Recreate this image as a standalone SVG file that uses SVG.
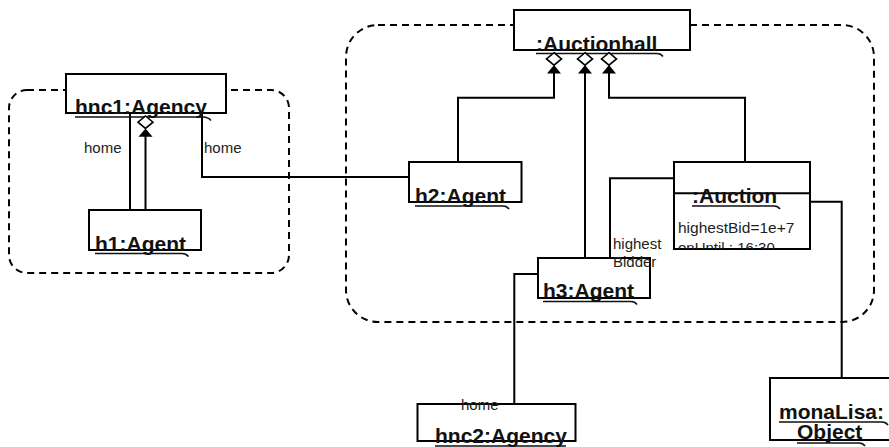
<svg xmlns="http://www.w3.org/2000/svg" width="889" height="447" viewBox="0 0 889 447">
  <style>
    .region { fill: none; stroke: #000; stroke-width: 2; stroke-dasharray: 7 5; }
    .box { fill: #fff; stroke: #000; stroke-width: 2; }
    .conn { fill: none; stroke: #000; stroke-width: 2; }
    .name { font-family: "Liberation Sans", Arial, sans-serif; font-weight: bold; font-size: 21px; fill: #111; }
    .ul { fill: none; stroke: #111; stroke-width: 1.6; }
    .lbl { font-family: "Liberation Sans", Arial, sans-serif; font-size: 15px; fill: #222; }
    .dia { fill: #fff; stroke: #000; stroke-width: 1.6; }
    .tri { fill: #000; stroke: none; }
  </style>
  <defs>
    <!-- aggregation end: open diamond with a filled navigation triangle below it -->
    <g id="aggEnd">
      <path class="dia" d="M0 0 L7.5 6.2 L0 12.4 L-7.5 6.2 Z"/>
      <path class="tri" d="M0 12.4 L7 20.8 L-7 20.8 Z"/>
    </g>
    <clipPath id="auctionClip">
      <rect x="674" y="162" width="136" height="87"/>
    </clipPath>
  </defs>

  <!-- system boundaries -->
  <g id="regions">
    <rect class="region" x="9" y="90" width="280" height="183" rx="18" ry="18"/>
    <rect class="region" x="346" y="25" width="528" height="297" rx="32" ry="32"/>
  </g>

  <!-- links between objects -->
  <g id="connectors">
    <path class="conn" d="M130 113 V210"/>
    <path class="conn" d="M145.5 136 V210"/>
    <path class="conn" d="M202 113 V177 H409"/>
    <path class="conn" d="M554 72 V97.7 H458 V162"/>
    <path class="conn" d="M585 72 V258"/>
    <path class="conn" d="M609 72 V97.7 H745 V162"/>
    <path class="conn" d="M674 178.3 H610 V258"/>
    <path class="conn" d="M538 274 H514.3 V404"/>
    <path class="conn" d="M810 201.7 H841.7 V378"/>
  </g>

  <g id="hnc1">
    <rect class="box" x="66" y="74" width="160" height="39"/>
    <text class="name" x="75" y="114">hnc1:Agency</text>
    <path class="ul" d="M75 117 H203 Q208 117 211 120.5"/>
  </g>

  <g id="h1">
    <rect class="box" x="89" y="210" width="112" height="40"/>
    <text class="name" x="95" y="251">h1:Agent</text>
    <path class="ul" d="M95 253.5 H182 Q186 253.5 188.5 256.5"/>
  </g>

  <g id="auctionhall">
    <rect class="box" x="514" y="10" width="176" height="40"/>
    <text class="name" x="536" y="51">:Auctionhall</text>
    <path class="ul" d="M536 53.5 H657 Q661 53.5 663 56.5"/>
  </g>

  <g id="h2">
    <rect class="box" x="409" y="162" width="112.5" height="40"/>
    <text class="name" x="415" y="203">h2:Agent</text>
    <path class="ul" d="M415 206 H503 Q507 206 509 209"/>
  </g>

  <g id="auction">
    <rect class="box" x="674" y="162" width="136" height="87"/>
    <path class="conn" d="M674 193.3 H810"/>
    <text class="name" x="692" y="203">:Auction</text>
    <path class="ul" d="M692 206 H774 Q778 206 780 209"/>
    <g clip-path="url(#auctionClip)">
      <text class="lbl" x="678" y="233.3" style="font-size:15.5px">highestBid=1e+7</text>
      <text class="lbl" x="678" y="252.5">onUntil : 16:30</text>
    </g>
  </g>

  <g id="h3">
    <rect class="box" x="538" y="258" width="112" height="40"/>
    <text class="name" x="543" y="298">h3:Agent</text>
    <path class="ul" d="M543 301.5 H631 Q635 301.5 637 304.5"/>
  </g>

  <g id="hnc2">
    <rect class="box" x="417.5" y="404" width="158" height="37"/>
    <text class="name" x="435" y="443">hnc2:Agency</text>
    <path class="ul" d="M435 446 H566"/>
  </g>

  <g id="monaLisa">
    <rect class="box" x="770" y="378" width="130" height="62"/>
    <text class="name" x="779" y="419">monaLisa:</text>
    <path class="ul" d="M779 422 H882 Q886 422 888 425"/>
    <text class="name" x="797" y="439">Object</text>
    <path class="ul" d="M797 443 H859 Q863 443 865 446"/>
  </g>

  <!-- aggregation ends drawn over the boxes -->
  <g id="aggregationEnds">
    <use href="#aggEnd" x="145.5" y="116"/>
    <use href="#aggEnd" x="554" y="52.7"/>
    <use href="#aggEnd" x="585" y="52.7"/>
    <use href="#aggEnd" x="609" y="52.7"/>
  </g>

  <!-- role names -->
  <g id="roleLabels">
    <text class="lbl" x="84" y="153">home</text>
    <text class="lbl" x="204" y="153">home</text>
    <text class="lbl" x="613" y="249">highest</text>
    <text class="lbl" x="613" y="267">Bidder</text>
    <text class="lbl" x="461" y="410">home</text>
  </g>
</svg>
